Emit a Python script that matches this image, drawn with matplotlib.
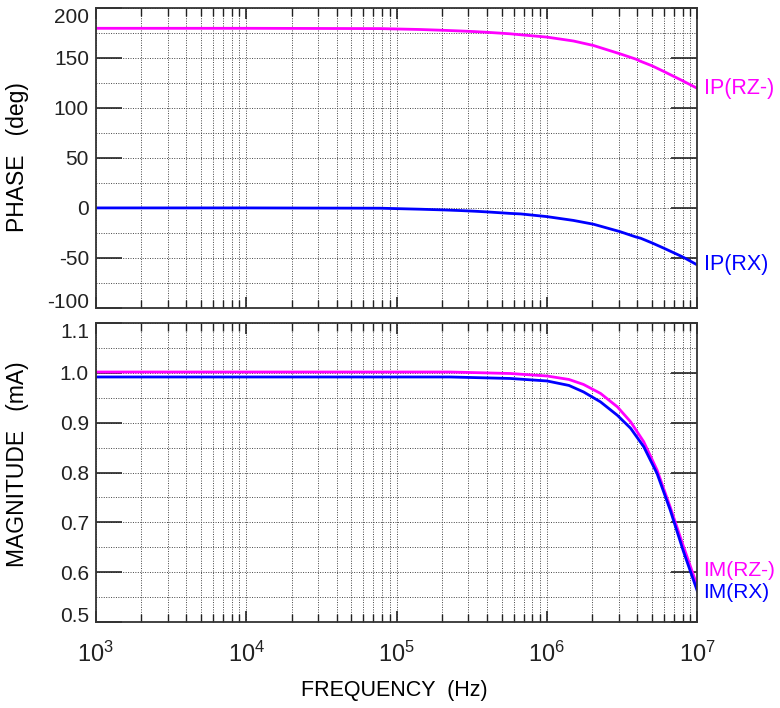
import matplotlib
matplotlib.use('Agg')
import matplotlib.pyplot as plt
from matplotlib.ticker import FixedLocator, MultipleLocator, NullFormatter

plt.rcParams['font.family'] = ['Liberation Sans', 'DejaVu Sans']
plt.rcParams['mathtext.default'] = 'regular'
plt.rcParams['axes.unicode_minus'] = False

# phase curves
f_ph = [1e3, 1e4, 7.8e4, 1.44e5, 2.05e5, 2.7e5, 3.3e5, 4e5, 5.7e5, 6.7e5, 1e6,
        1.5e6, 2.04e6, 3.06e6, 3.9e6, 4.2e6, 5e6, 6e6, 8e6, 1e7]
phase_rz = [179.5, 179.5, 179.2, 178.3, 177.5, 176.8, 176.2, 175.5, 174, 173, 170.7,
            166.8, 162.3, 154, 148.7, 146.5, 142, 136.3, 127, 119.5]
phase_rx = [0, 0, -0.3, -1.3, -2, -2.7, -3.3, -4, -5.5, -6, -8.7,
            -12.5, -16.3, -23.7, -29, -30.3, -35, -40.3, -49, -57]

# magnitude curves (mA)
f_mag = [1e3, 1e4, 1e5, 2.27e5, 5.7e5, 1e6, 1.4e6, 1.75e6, 2.27e6, 2.94e6, 3.6e6,
         4.4e6, 5.4e6, 6.6e6, 8.1e6, 1e7]
mag_rz = [1.002, 1.002, 1.002, 1.002, 0.999, 0.994, 0.987, 0.977, 0.959, 0.932, 0.902,
          0.862, 0.805, 0.731, 0.651, 0.572]
mag_rx = [0.992, 0.992, 0.992, 0.992, 0.989, 0.984, 0.975, 0.962, 0.942, 0.915, 0.889,
          0.852, 0.798, 0.725, 0.641, 0.562]

phase_ticks = [-100, -50, 0, 50, 100, 150, 200]
mag_ticks = [0.5, 0.6, 0.7, 0.8, 0.9, 1.0, 1.1]

mag_col = '#ff00ff'
blu_col = '#0000ff'

fig = plt.figure(figsize=(7.8, 7.08), dpi=100)
ax1 = fig.add_axes([0.123, 0.565, 0.771, 0.424])
ax2 = fig.add_axes([0.123, 0.1215, 0.771, 0.422])

for ax in (ax1, ax2):
    ax.set_xscale('log')
    ax.set_xlim(1e3, 1e7)
    ax.xaxis.set_minor_locator(FixedLocator([m * 10**e for e in range(3, 7) for m in range(2, 10)]))
    ax.xaxis.set_minor_formatter(NullFormatter())
    ax.grid(which='both', linestyle=(0, (1, 1.5)), color='#444444', linewidth=0.7)
    ax.tick_params(which='both', direction='in', top=True, right=True, colors='#222222')
    ax.tick_params(axis='x', which='major', length=8, width=1.2)
    ax.tick_params(axis='x', which='minor', length=6, width=1.0)
    ax.tick_params(axis='y', which='major', length=19, width=1.2, pad=5, labelsize=15)
    ax.tick_params(axis='y', which='minor', length=0)
    for s in ax.spines.values():
        s.set_linewidth(1.3)
        s.set_color('#333333')

# phase panel
ax1.plot(f_ph, phase_rz, color=mag_col, lw=2)
ax1.plot(f_ph, phase_rx, color=blu_col, lw=2)
ax1.set_ylim(-100, 200)
ax1.set_yticks(phase_ticks)
ax1.yaxis.set_minor_locator(MultipleLocator(25))
ax1.tick_params(axis='x', labelbottom=False)
ax1.text(1.1e7, phase_rz[-1], 'IP(RZ-)', color=mag_col, fontsize=15.5, va='center', ha='left', clip_on=False)
ax1.text(1.1e7, phase_rx[-1], 'IP(RX)', color=blu_col, fontsize=15.5, va='center', ha='left', clip_on=False)

# magnitude panel
ax2.plot(f_mag, mag_rz, color=mag_col, lw=2)
ax2.plot(f_mag, mag_rx, color=blu_col, lw=2)
ax2.set_ylim(0.5, 1.1)
ax2.set_yticks(mag_ticks, ['%.1f' % v for v in mag_ticks])
ax2.yaxis.set_minor_locator(MultipleLocator(0.05))
ax2.tick_params(axis='x', which='major', labelsize=17, pad=14)
ax2.text(1.1e7, 0.604, 'IM(RZ-)', color=mag_col, fontsize=15, va='center', ha='left', clip_on=False)
ax2.text(1.1e7, 0.559, 'IM(RX)', color=blu_col, fontsize=15, va='center', ha='left', clip_on=False)

# axis titles placed like the original
fig.text(0.022, 0.778, 'PHASE   (deg)', rotation=90, fontsize=16.5, ha='center', va='center')
fig.text(0.022, 0.345, 'MAGNITUDE   (mA)', rotation=90, fontsize=16.5, ha='center', va='center')
fig.text(0.506, 0.025, 'FREQUENCY  (Hz)', fontsize=15.5, ha='center', va='center')

# end labels sit inside the frame, like the original plot
for ax in (ax1, ax2):
    ticks = ax.yaxis.get_major_ticks()
    ticks[0].label1.set_verticalalignment('baseline')
    ticks[-1].label1.set_verticalalignment('top')

fig.savefig('out.png', dpi=100)
